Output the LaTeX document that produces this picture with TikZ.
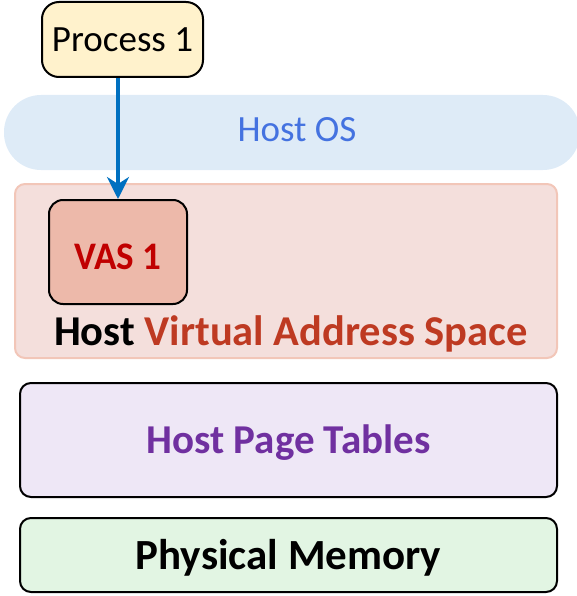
\documentclass[tikz,border=0pt]{standalone}
\usepackage{fontspec}
\setmainfont{Carlito}
\usetikzlibrary{arrows.meta}
\definecolor{procfill}{HTML}{FFF2CC}
\definecolor{osfill}{HTML}{DEEBF7}
\definecolor{ostext}{HTML}{4472E0}
\definecolor{vasbigfill}{HTML}{F4DFDC}
\definecolor{vasbigdraw}{HTML}{F2C6B8}
\definecolor{vasfill}{HTML}{EDB9AA}
\definecolor{vastext}{HTML}{C00000}
\definecolor{vastitle}{HTML}{BE3A22}
\definecolor{ptfill}{HTML}{EEE7F6}
\definecolor{pttext}{HTML}{7030A0}
\definecolor{pmfill}{HTML}{E2F5E3}
\definecolor{arrowblue}{HTML}{0070C0}
\tikzset{
  blackbox/.style={draw=black, line width=2pt, rounded corners=11pt, inner sep=0pt},
  bigfont/.style={font=\fontsize{37}{44}\selectfont},
  flowarrow/.style={draw=arrowblue, line width=3.2pt, -{Stealth[length=22pt,width=22pt,inset=7pt]}}
}
\begin{document}
\begin{tikzpicture}[x=1pt,y=-1pt]
\useasboundingbox (0,0) rectangle (577,596);
% Host OS pill
\node[fill=osfill, rounded corners=37pt, minimum width=576pt, minimum height=75pt, inner sep=0pt] (os) at (292,132.5) {};
\node[bigfont, text=ostext] (ostxt) at (297,130) {Host OS};
% Host VAS
\node[fill=vasbigfill, draw=vasbigdraw, line width=2pt, rounded corners=10pt, minimum width=542pt, minimum height=174pt, inner sep=0pt] (hvas) at (286,271) {};
\node[blackbox, fill=vasfill, rounded corners=14pt, minimum width=138pt, minimum height=104pt] (vas) at (118,252) {};
\node[text=vastext, font=\bfseries\fontsize{39}{46}\selectfont, xscale=0.95] (vastxt) at ([yshift=-5pt]vas.center) {VAS 1};
\node[font=\bfseries\fontsize{42.5}{50}\selectfont, anchor=base] (hvastxt) at (291,345) {Host \textcolor{vastitle}{Virtual Address Space}};
% Process
\node[blackbox, fill=procfill, rounded corners=17pt, minimum width=161pt, minimum height=75pt, bigfont] (proc) at (122.5,39.5) {Process 1};
% Page tables
\node[blackbox, fill=ptfill, minimum width=537pt, minimum height=114pt] (pt) at (288.5,440) {};
\node[font=\bfseries\fontsize{41}{49}\selectfont, text=pttext] (pttxt) at ([yshift=-3pt]pt.center) {Host Page Tables};
% Physical memory
\node[blackbox, fill=pmfill, minimum width=537pt, minimum height=74pt] (pm) at (288.5,555) {};
\node[font=\bfseries\fontsize{43}{51}\selectfont] (pmtxt) at ([yshift=-3pt]pm.center) {Physical Memory};
% arrow
\draw[flowarrow] (vas.north |- proc.south) -- (vas.north);
\end{tikzpicture}
\end{document}
